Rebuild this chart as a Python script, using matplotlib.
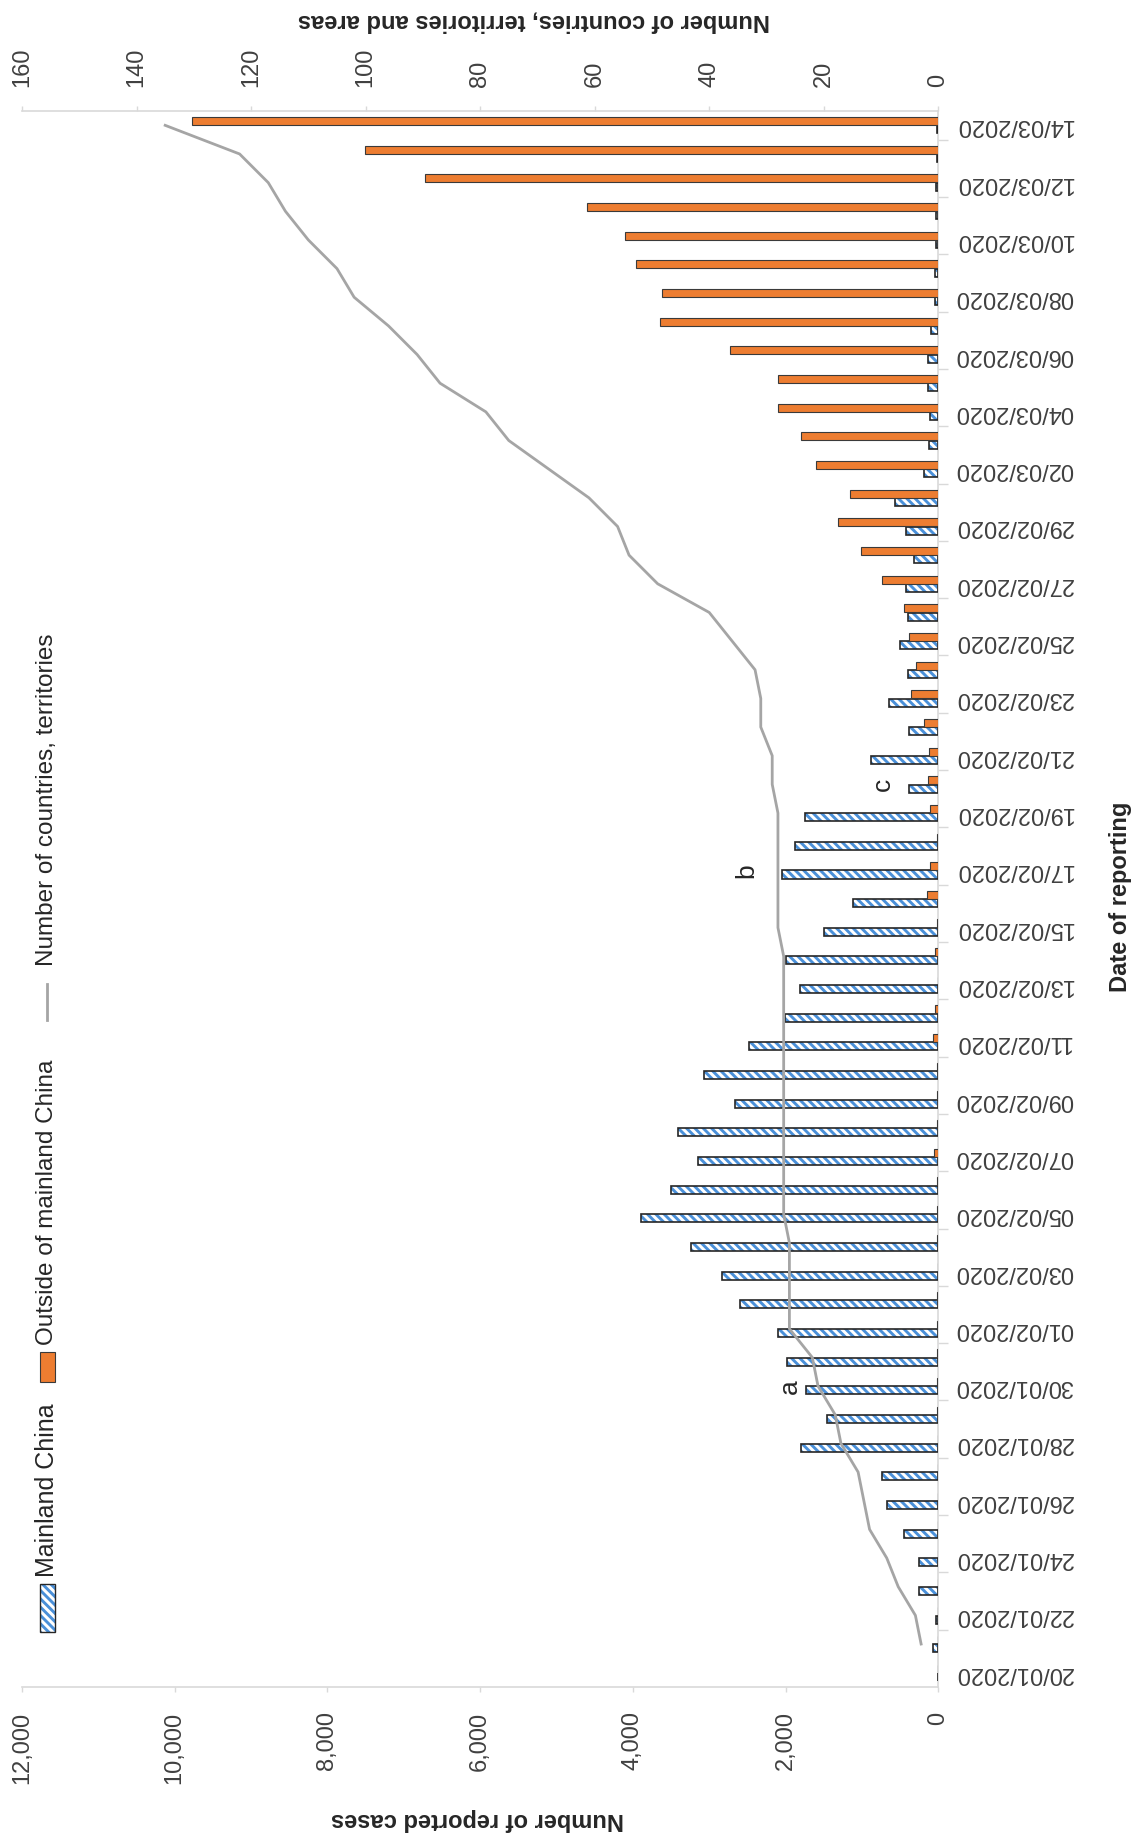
import numpy as np
import pandas as pd
import matplotlib
matplotlib.use("Agg")
import matplotlib.pyplot as plt
from matplotlib.patches import Rectangle
from matplotlib.lines import Line2D
from matplotlib import font_manager

# ---------------- data ----------------
dates = list(pd.date_range("2020-01-20", "2020-03-14").strftime("%d/%m/%Y"))

mainland_china = [0, 74, 25, 258, 254, 455, 678, 743, 1793, 1456,
                  1736, 1981, 2103, 2593, 2829, 3236, 3892, 3507, 3149, 3407,
                  2659, 3065, 2480, 2003, 1815, 1990, 1500, 1115, 2047, 1880,
                  1745, 385, 883, 389, 643, 402, 503, 398, 424, 323,
                  424, 568, 192, 118, 114, 131, 140, 96, 44, 44,
                  26, 26, 26, 13, 22]

outside_china = [0, 4, 1, 3, 2, 6, 7, 8, 8, 12,
                 14, 16, 14, 14, 7, 17, 22, 22, 52, 17,
                 18, 12, 74, 39, 6, 48, 13, 144, 105, 13,
                 114, 140, 118, 188, 359, 293, 389, 455, 743, 1018,
                 1320, 1154, 1596, 1793, 2103, 2099, 2729, 3643, 3612, 3953,
                 4106, 4600, 6717, 7510, 9774]

countries = [np.nan, 3, 4, 7, 9, 12, 13, 14, 17, 18,
             21, 22, 26, 26, 26, 26, 27, 27, 27, 27,
             27, 27, 27, 27, 27, 27, 28, 28, 28, 28,
             28, 29, 29, 31, 31, 32, 36, 40, 49, 54,
             56, 61, 68, 75, 79, 87, 91, 96, 102, 105,
             110, 114, 117, 122, 135]

case_ticks = [0, 2000, 4000, 6000, 8000, 10000, 12000]
country_ticks = [0, 20, 40, 60, 80, 100, 120, 140, 160]
notes = [("a", 1946, 10), ("b", 2514, 28), ("c", 722, 31)]

# ---------------- style ----------------
names = {f.name for f in font_manager.fontManager.ttflist}
base = "Liberation Sans" if "Liberation Sans" in names else "DejaVu Sans"
plt.rcParams["font.family"] = [base, "DejaVu Sans"]
plt.rcParams["hatch.linewidth"] = 2.1

BLUE = "#4A90D9"
ORANGE = "#ED7D31"
GREY_LINE = "#A5A5A5"
AXIS = "#D9D9D9"
TXT = "#404040"
DARK = "#262626"
HATCH = "\\\\\\\\"

W, H = 1137, 1834
fig = plt.figure(figsize=(W / 100, H / 100), dpi=100)
L, R, T, B = 22, 938.3, 111, 1687
ax = fig.add_axes([L / W, 1 - B / H, (R - L) / W, (B - T) / H])

idx = np.arange(len(dates))
bh, off = 0.28, 0.145
ax.barh(idx - off, mainland_china, height=bh, color="white", edgecolor=BLUE,
        hatch=HATCH, linewidth=0, zorder=2)
ax.barh(idx - off, mainland_china, height=bh, color="none", edgecolor=DARK,
        linewidth=1.2, zorder=3)
ax.barh(idx + off, outside_china, height=bh, color=ORANGE, edgecolor="#3A3A3A",
        linewidth=0.8, zorder=3)

ax.set_xlim(12000, 0)
ax.set_ylim(-0.5, len(dates) - 0.5)
ax.set_xticks(case_ticks)
ax.set_xticklabels([f"{v:,}" for v in case_ticks])
ax.tick_params(axis="x", direction="out", length=3.6, width=1.0, color=AXIS,
               labelsize=17, labelcolor=TXT, pad=14, labelrotation=90)

ax.yaxis.tick_right()
ax.set_yticks(idx[::2])
ax.set_yticklabels(dates[::2])
ax.set_yticks(np.arange(1.5, len(dates) - 1, 2), minor=True)
ax.tick_params(axis="y", which="major", length=0, pad=12, labelsize=17,
               labelcolor=TXT, left=False, right=True)
ax.tick_params(axis="y", which="minor", length=7.2, width=1.0, color=AXIS,
               left=False, right=True)
for lab in ax.get_yticklabels():
    lab.set_rotation(180)
    lab.set_va("center")
    lab.set_ha("left")

for s in ["left", "top"]:
    ax.spines[s].set_visible(False)
for s in ["right", "bottom"]:
    ax.spines[s].set_color(AXIS)
    ax.spines[s].set_linewidth(1.2)

for txt, xv, yv in notes:
    ax.text(xv, yv, txt, rotation=90, ha="center", va="center",
            fontsize=19, color=DARK, zorder=5)

ax2 = ax.twiny()
ax2.plot(countries, idx, color=GREY_LINE, lw=2.0, zorder=4)
ax2.set_xlim(160, 0)
ax2.set_ylim(-0.5, len(dates) - 0.5)
ax2.set_xticks(country_ticks)
ax2.tick_params(axis="x", direction="out", length=3.6, width=1.0, color=AXIS,
                labelsize=17, labelcolor=TXT, pad=14, labelrotation=90)
for s in ["left", "right", "bottom"]:
    ax2.spines[s].set_visible(False)
ax2.spines["top"].set_color(AXIS)
ax2.spines["top"].set_linewidth(1.2)


def fx(x):
    return x / W


def fy(y):
    return 1 - y / H


# axis titles
fig.text(fx(534), fy(21), "Number of countries, territories and areas",
         rotation=180, ha="center", va="center", fontsize=17,
         fontweight="bold", color=DARK)
fig.text(fx(477), fy(1820), "Number of reported cases", rotation=180,
         ha="center", va="center", fontsize=17, fontweight="bold", color=DARK)
fig.text(fx(1121), fy(897), "Date of reporting", rotation=90, ha="center",
         va="center", fontsize=17, fontweight="bold", color=DARK)

# legend (rotated)
fig.add_artist(Rectangle((fx(40), fy(1632)), 15 / W, 48 / H,
                         transform=fig.transFigure, facecolor="white",
                         edgecolor=BLUE, hatch=HATCH, linewidth=0))
fig.add_artist(Rectangle((fx(40), fy(1632)), 15 / W, 48 / H,
                         transform=fig.transFigure, facecolor="none",
                         edgecolor=DARK, linewidth=1.0))
fig.text(fx(47), fy(1577), "Mainland China", rotation=90, ha="center",
         va="bottom", fontsize=18, color=DARK)

fig.add_artist(Rectangle((fx(40), fy(1382)), 15 / W, 30 / H,
                         transform=fig.transFigure, facecolor=ORANGE,
                         edgecolor="#3A3A3A", linewidth=0.8))
fig.text(fx(47), fy(1345), "Outside of mainland China", rotation=90,
         ha="center", va="bottom", fontsize=17.5, color=DARK)

fig.add_artist(Line2D([fx(47), fx(47)], [fy(1020), fy(984)],
                      transform=fig.transFigure, color=GREY_LINE, lw=2.0))
fig.text(fx(47), fy(966), "Number of countries, territories", rotation=90,
         ha="center", va="bottom", fontsize=17.5, color=DARK)

fig.savefig("out.png", dpi=100)
